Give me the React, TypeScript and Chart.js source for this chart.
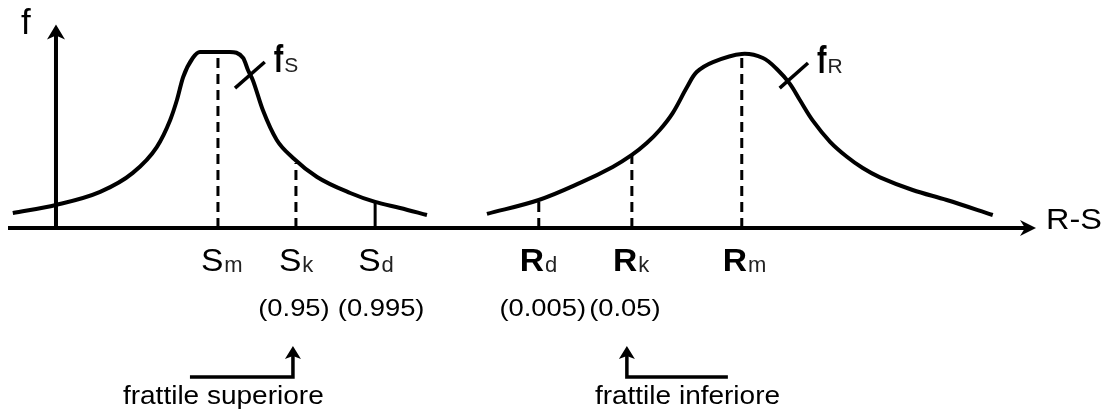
import React, { useEffect, useRef } from "react";
import { Chart, registerables } from "chart.js";

Chart.register(...registerables);

// Resistance / load density curves (x: R-S axis units, y: density f)
const sCurveX = [-0.9, 0, 0.92, 1.6, 2.1, 2.38, 2.52, 2.65, 2.85, 3.0, 3.31, 3.62, 3.9, 4.0, 4.1, 4.31, 4.6, 4.94, 5.44, 6.13, 6.65, 7.17, 7.73];
const sCurveY = [0.085, 0.131, 0.205, 0.313, 0.46, 0.614, 0.727, 0.858, 0.966, 1.0, 1.0, 1.0, 0.966, 0.898, 0.841, 0.67, 0.5, 0.398, 0.29, 0.199, 0.148, 0.114, 0.074];
const rCurveX = [8.98, 10.06, 10.92, 11.6, 12.0, 12.31, 12.58, 12.85, 13.15, 13.35, 13.69, 14.29, 14.73, 15.04, 15.29, 15.5, 15.77, 16.13, 16.48, 16.81, 17.17, 17.85, 18.56, 19.52];
const rCurveY = [0.08, 0.159, 0.256, 0.347, 0.415, 0.483, 0.557, 0.653, 0.801, 0.886, 0.943, 0.989, 0.966, 0.898, 0.82, 0.727, 0.61, 0.49, 0.405, 0.341, 0.288, 0.216, 0.159, 0.074];

// Characteristic values (vertical markers)
const markerMain = ["S", "S", "S", "R", "R", "R"];
const markerSub = ["m", "k", "d", "d", "k", "m"];
const markerX = [3.375, 5.0, 6.65, 10.06, 12.0, 14.29];
const markerTop = [1.0, 0.369, 0.142, 0.159, 0.415, 0.989];
const markerDashed = [true, true, false, true, true, true];
const markerProb = ["", "(0.95)", "(0.995)", "(0.005)", "(0.05)", ""];

// Curve name tick marks
const fsTickX = [3.73, 4.35];
const fsTickY = [0.795, 0.943];
const frTickX = [15.08, 15.67];
const frTickY = [0.795, 0.9375];

const axisLabelY = "f";
const axisLabelX = "R-S";
const curveNames = [["f", "S"], ["f", "R"]];
const fractileLabels = ["frattile superiore", "frattile inferiore"];

const FONT = '"Liberation Sans", Arial, sans-serif';

function drawText(ctx: CanvasRenderingContext2D, text: string, x: number, y: number, font: string, sx: number, align: CanvasTextAlign = "left") {
  ctx.save();
  ctx.font = font;
  ctx.textAlign = align;
  ctx.textBaseline = "alphabetic";
  ctx.translate(x, y);
  ctx.scale(sx, 1);
  ctx.fillText(text, 0, 0);
  const w = ctx.measureText(text).width * sx;
  ctx.restore();
  return w;
}

const overlay = {
  id: "overlay",
  afterDatasetsDraw(chart: any) {
    const ctx: CanvasRenderingContext2D = chart.ctx;
    const xs = chart.scales.x;
    const ys = chart.scales.y;
    const x0 = xs.getPixelForValue(0);
    const y0 = ys.getPixelForValue(0);
    const xEnd = xs.getPixelForValue(xs.max);
    const yTop = ys.getPixelForValue(ys.max);
    ctx.save();
    ctx.strokeStyle = "#000";
    ctx.fillStyle = "#000";
    ctx.lineWidth = 4;
    ctx.lineCap = "butt";
    // x axis
    ctx.beginPath();
    ctx.moveTo(xs.getPixelForValue(xs.min), y0);
    ctx.lineTo(xEnd - 6, y0);
    ctx.stroke();
    ctx.beginPath();
    ctx.moveTo(xEnd + 1, y0);
    ctx.lineTo(xEnd - 15, y0 - 8);
    ctx.lineTo(xEnd - 10, y0);
    ctx.lineTo(xEnd - 15, y0 + 8);
    ctx.closePath();
    ctx.fill();
    // y axis
    ctx.beginPath();
    ctx.moveTo(x0, y0);
    ctx.lineTo(x0, yTop + 6);
    ctx.stroke();
    ctx.beginPath();
    ctx.moveTo(x0, yTop - 1);
    ctx.lineTo(x0 - 9, yTop + 14);
    ctx.lineTo(x0, yTop + 10);
    ctx.lineTo(x0 + 9, yTop + 14);
    ctx.closePath();
    ctx.fill();

    ctx.fillStyle = "#000";
    drawText(ctx, axisLabelY, x0 - 35, yTop + 8, `35px ${FONT}`, 1.0);
    drawText(ctx, axisLabelX, xEnd + 11, y0 + 1, `30px ${FONT}`, 1.08);

    // curve names
    const names = [
      { n: curveNames[0], x: xs.getPixelForValue(fsTickX[1]), y: ys.getPixelForValue(fsTickY[1]) },
      { n: curveNames[1], x: xs.getPixelForValue(frTickX[1]), y: ys.getPixelForValue(frTickY[1]) },
    ];
    for (const nm of names) {
      const w = drawText(ctx, nm.n[0], nm.x + 9, nm.y + 10, `bold 38px ${FONT}`, 0.75);
      ctx.fillStyle = "#222";
      drawText(ctx, nm.n[1], nm.x + 9 + w + 1, nm.y + 10, `21px ${FONT}`, 1.0);
      ctx.fillStyle = "#000";
    }

    // marker labels
    const probDx = [0, -2, 6, 4, -7, 0];
    for (let i = 0; i < markerX.length; i++) {
      const px = xs.getPixelForValue(markerX[i]);
      const isR = markerMain[i] === "R";
      const left = px - (isR ? 19 : 17);
      const w = drawText(ctx, markerMain[i], left, y0 + 43, `${isR ? "bold " : ""}32px ${FONT}`, 1.05);
      ctx.fillStyle = "#222";
      drawText(ctx, markerSub[i], left + w + 1, y0 + 44, `22px ${FONT}`, 1.0);
      ctx.fillStyle = "#000";
      if (markerProb[i]) {
        drawText(ctx, markerProb[i], px + probDx[i], y0 + 88, `24px ${FONT}`, 1.14, "center");
      }
    }

    // fractile arrows
    const sk = xs.getPixelForValue(markerX[1]);
    const rk = xs.getPixelForValue(markerX[4]);
    const arrows = [
      { vx: sk - 3, hx: sk - 106 },
      { vx: rk - 5, hx: rk + 96 },
    ];
    const hy = y0 + 149;
    const tipY = y0 + 118;
    ctx.lineWidth = 3.5;
    for (const a of arrows) {
      ctx.beginPath();
      ctx.moveTo(a.hx, hy);
      ctx.lineTo(a.vx, hy);
      ctx.lineTo(a.vx, tipY + 8);
      ctx.stroke();
      ctx.beginPath();
      ctx.moveTo(a.vx, tipY);
      ctx.lineTo(a.vx - 8, tipY + 13);
      ctx.lineTo(a.vx, tipY + 10);
      ctx.lineTo(a.vx + 8, tipY + 13);
      ctx.closePath();
      ctx.fill();
    }
    drawText(ctx, fractileLabels[0], sk - 173, y0 + 176, `25px ${FONT}`, 1.12);
    drawText(ctx, fractileLabels[1], rk - 37, y0 + 176, `25px ${FONT}`, 1.12);
    ctx.restore();
  },
};

export default function App() {
  const ref = useRef<HTMLCanvasElement | null>(null);
  useEffect(() => {
    if (!ref.current) return;
    const curve = (xs: number[], ys: number[]) => xs.map((x, i) => ({ x, y: ys[i] }));
    const base = {
      borderColor: "#000",
      pointRadius: 0,
      fill: false,
      clip: false as any,
    };
    const datasets: any[] = [
      { ...base, data: curve(sCurveX, sCurveY), borderWidth: 4, cubicInterpolationMode: "monotone" },
      { ...base, data: curve(rCurveX, rCurveY), borderWidth: 4, tension: 0.35 },
      { ...base, data: curve(fsTickX, fsTickY), borderWidth: 3.5 },
      { ...base, data: curve(frTickX, frTickY), borderWidth: 3.5 },
    ];
    markerX.forEach((mx, i) => {
      datasets.push({
        ...base,
        data: [{ x: mx, y: 0 }, { x: mx, y: markerTop[i] }],
        borderWidth: 3,
        borderDash: markerDashed[i] ? [10, 6] : [],
      });
    });
    const chart = new Chart(ref.current, {
      type: "line",
      data: { datasets },
      options: {
        animation: false,
        responsive: false,
        devicePixelRatio: 1,
        layout: { padding: { left: 8, right: 74, top: 25.6, bottom: 184 } },
        plugins: { legend: { display: false }, tooltip: { enabled: false } },
        events: [],
        scales: {
          x: { type: "linear", min: -1, max: 20.4, display: false },
          y: { type: "linear", min: 0, max: 1.15, display: false },
        },
      },
      plugins: [overlay],
    });
    return () => chart.destroy();
  }, []);
  return (
    <div style={{ position: "absolute", left: 0, top: 0, width: 1109, height: 412, background: "#fff" }}>
      <canvas ref={ref} width={1109} height={412} style={{ display: "block" }} />
    </div>
  );
}
